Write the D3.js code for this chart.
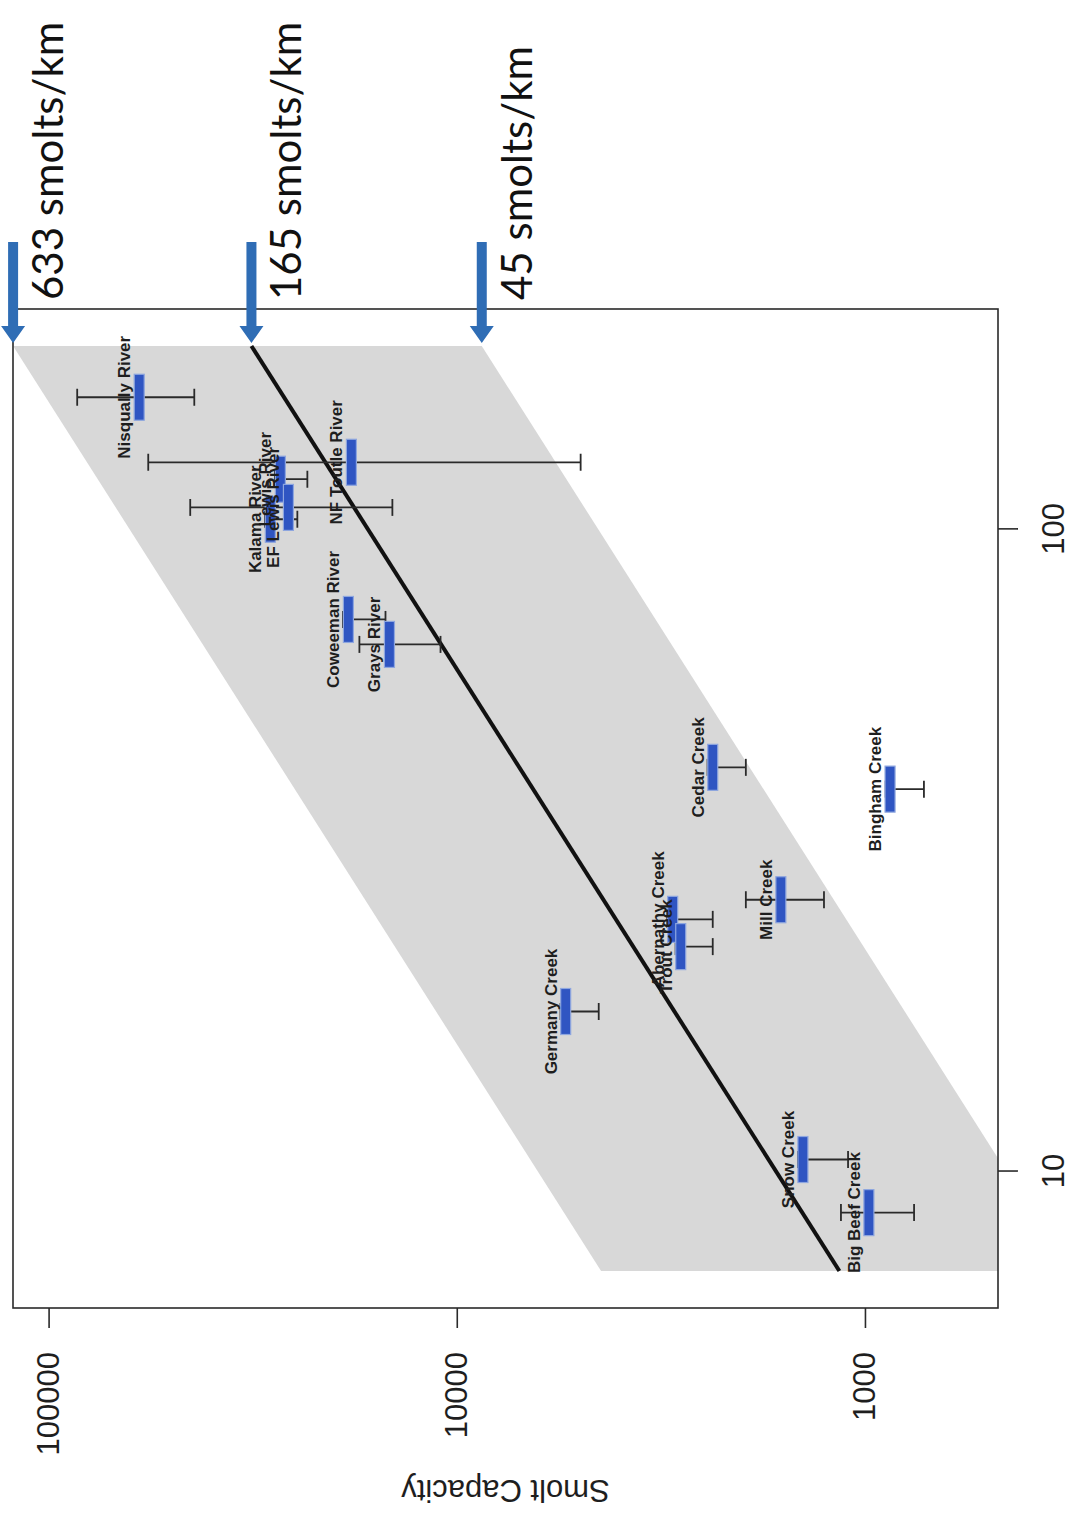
<!DOCTYPE html>
<html>
<head>
<meta charset="utf-8">
<script src="https://cdn.jsdelivr.net/npm/d3@7/dist/d3.min.js"></script>
<style>
  html, body { margin: 0; padding: 0; background: #ffffff; }
  svg { display: block; }
</style>
</head>
<body>
<script>
// Smolt capacity by stream length, log-log, with density reference lines.
const streams = ["Nisqually River", "NF Toutle River", "Lewis River", "EF Lewis River", "Kalama River",
  "Coweeman River", "Grays River", "Cedar Creek", "Bingham Creek", "Mill Creek",
  "Abernathy Creek", "Trout Creek", "Germany Creek", "Snow Creek", "Big Beef Creek"];
const lengthKm = [160.6, 127.2, 119.7, 108.2, 103.7, 72.4, 66.2, 42.6, 39.4, 26.5, 24.7, 22.4, 17.75, 10.44, 8.63];
const capacity = [59980, 18120, 27050, 25850, 28630, 18430, 14620, 2360, 868, 1607, 2958, 2827, 5410, 1419, 978];
const capacityLow = [43960, 4972, 23230, 14380, 24580, 14950, 10960, 1958, 717, 1260, 2360, 2360, 4490, 1100, 758];
const capacityHigh = [85100, 57000, 27900, 44980, 29500, 19000, 17320, 2430, 890, 1958, 3050, 2910, 5570, 1460, 1145];

// smolts per km: upper edge, fitted line, lower edge
const densityLabels = ["633 smolts/km", "165 smolts/km", "45 smolts/km"];
const densities = [633, 165, 45];

const xlim = [7, 193];
const ylim = [580, 99500];
const xTicks = [10, 100];
const yTicks = [1000, 10000, 100000];
const yTitle = "Smolt Capacity";

const W = 1072, H = 1516;
// the figure is laid out landscape (H wide, W tall) and turned a quarter turn
const u0 = 208, u1 = 1207, v0 = 13, v1 = 998;

function padLog(lim) {
  const a = Math.log10(lim[0]), b = Math.log10(lim[1]), p = 0.04 * (b - a);
  return [Math.pow(10, a - p), Math.pow(10, b + p)];
}

const x = d3.scaleLog().domain(padLog(xlim)).range([u0, u1]);
const y = d3.scaleLog().domain(padLog(ylim)).range([v1, v0]);

const svg = d3.select("body").append("svg")
  .attr("width", W).attr("height", H)
  .attr("viewBox", `0 0 ${W} ${H}`);

const g = svg.append("g").attr("transform", `translate(0,${H}) rotate(-90)`);

g.append("clipPath").attr("id", "plotClip")
  .append("rect").attr("x", u0).attr("y", v0).attr("width", u1 - u0).attr("height", v1 - v0);

const plot = g.append("g").attr("clip-path", "url(#plotClip)");

// shaded band between the upper and lower densities
const hi = densities[0], lo = densities[2];
const band = [
  [xlim[0], lo * xlim[0]], [xlim[1], lo * xlim[1]],
  [xlim[1], hi * xlim[1]], [xlim[0], hi * xlim[0]]
];
plot.append("path")
  .attr("d", d3.line().x(d => x(d[0])).y(d => y(d[1]))(band) + "Z")
  .attr("fill", "#d8d8d8");

// fitted density line
const mid = densities[1];
plot.append("path")
  .attr("d", d3.line().x(d => x(d)).y(d => y(mid * d))(xlim))
  .attr("fill", "none").attr("stroke", "#111").attr("stroke-width", 4);

// points: error bars, bars, names
const idx = d3.range(streams.length);
const capHalf = 8.5, barHalf = 23, barThick = 10;

const pts = plot.append("g");
idx.forEach(i => {
  const cx = x(lengthKm[i]);
  const gg = pts.append("g");
  gg.append("line")
    .attr("x1", cx).attr("x2", cx)
    .attr("y1", y(capacityLow[i])).attr("y2", y(capacityHigh[i]))
    .attr("stroke", "#2a2a2a").attr("stroke-width", 1.8);
  [capacityLow[i], capacityHigh[i]].forEach(c => {
    gg.append("line")
      .attr("x1", cx - capHalf).attr("x2", cx + capHalf)
      .attr("y1", y(c)).attr("y2", y(c))
      .attr("stroke", "#2a2a2a").attr("stroke-width", 1.8);
  });
});
idx.forEach(i => {
  pts.append("rect")
    .attr("x", x(lengthKm[i]) - barHalf)
    .attr("y", y(capacity[i]) - barThick / 2)
    .attr("width", barHalf * 2).attr("height", barThick)
    .attr("fill", "#2f55c2")
    .attr("stroke", "#8ea6df").attr("stroke-width", 1.2);
});
idx.forEach(i => {
  pts.append("text")
    .attr("x", x(lengthKm[i]))
    .attr("y", y(capacity[i]) - 9)
    .attr("text-anchor", "middle")
    .attr("font-family", "'Liberation Sans', Arial, sans-serif")
    .attr("font-weight", "bold")
    .attr("font-size", 17)
    .attr("fill", "#1e1e1e")
    .text(streams[i]);
});

// frame
g.append("rect")
  .attr("x", u0).attr("y", v0).attr("width", u1 - u0).attr("height", v1 - v0)
  .attr("fill", "none").attr("stroke", "#2a2a2a").attr("stroke-width", 1.6);

// axes
const axisFont = "'Liberation Sans', Arial, sans-serif";
const xAxis = g.append("g").attr("transform", `translate(0,${v1})`)
  .call(d3.axisBottom(x).tickValues(xTicks).tickFormat(d3.format("d")).tickSize(20).tickPadding(24));
const yAxis = g.append("g").attr("transform", `translate(${u0},0)`)
  .call(d3.axisLeft(y).tickValues(yTicks).tickFormat(d3.format("d")).tickSize(20).tickPadding(24));
[xAxis, yAxis].forEach(ax => {
  ax.select(".domain").remove();
  ax.selectAll(".tick line").attr("stroke", "#2a2a2a").attr("stroke-width", 1.6);
  ax.selectAll(".tick text")
    .attr("font-family", axisFont).attr("font-size", 31).attr("fill", "#1e1e1e");
});

g.append("text")
  .attr("transform", `translate(26,${(v0 + v1) / 2}) rotate(-90)`)
  .attr("text-anchor", "middle").attr("dominant-baseline", "central")
  .attr("font-family", axisFont).attr("font-size", 31).attr("fill", "#1e1e1e")
  .text(yTitle);

// arrows pointing at the top end of each density line
const tip = x(xlim[1]) + 3;
const headLen = 17, headHalf = 12, shaftHalf = 5, tail = 1274;
densities.forEach((d, k) => {
  const vv = y(d * xlim[1]);
  const pts2 = [
    [tip, vv], [tip + headLen, vv - headHalf], [tip + headLen, vv - shaftHalf],
    [tail, vv - shaftHalf], [tail, vv + shaftHalf], [tip + headLen, vv + shaftHalf],
    [tip + headLen, vv + headHalf]
  ];
  g.append("path")
    .attr("d", d3.line()(pts2) + "Z")
    .attr("fill", "#2f6db5");
  g.append("text")
    .attr("x", tip + 43).attr("y", vv + 50)
    .attr("font-family", "Lato, 'Open Sans', sans-serif")
    .attr("font-size", 42).attr("fill", "#111")
    .text(densityLabels[k]);
});
</script>
</body>
</html>
